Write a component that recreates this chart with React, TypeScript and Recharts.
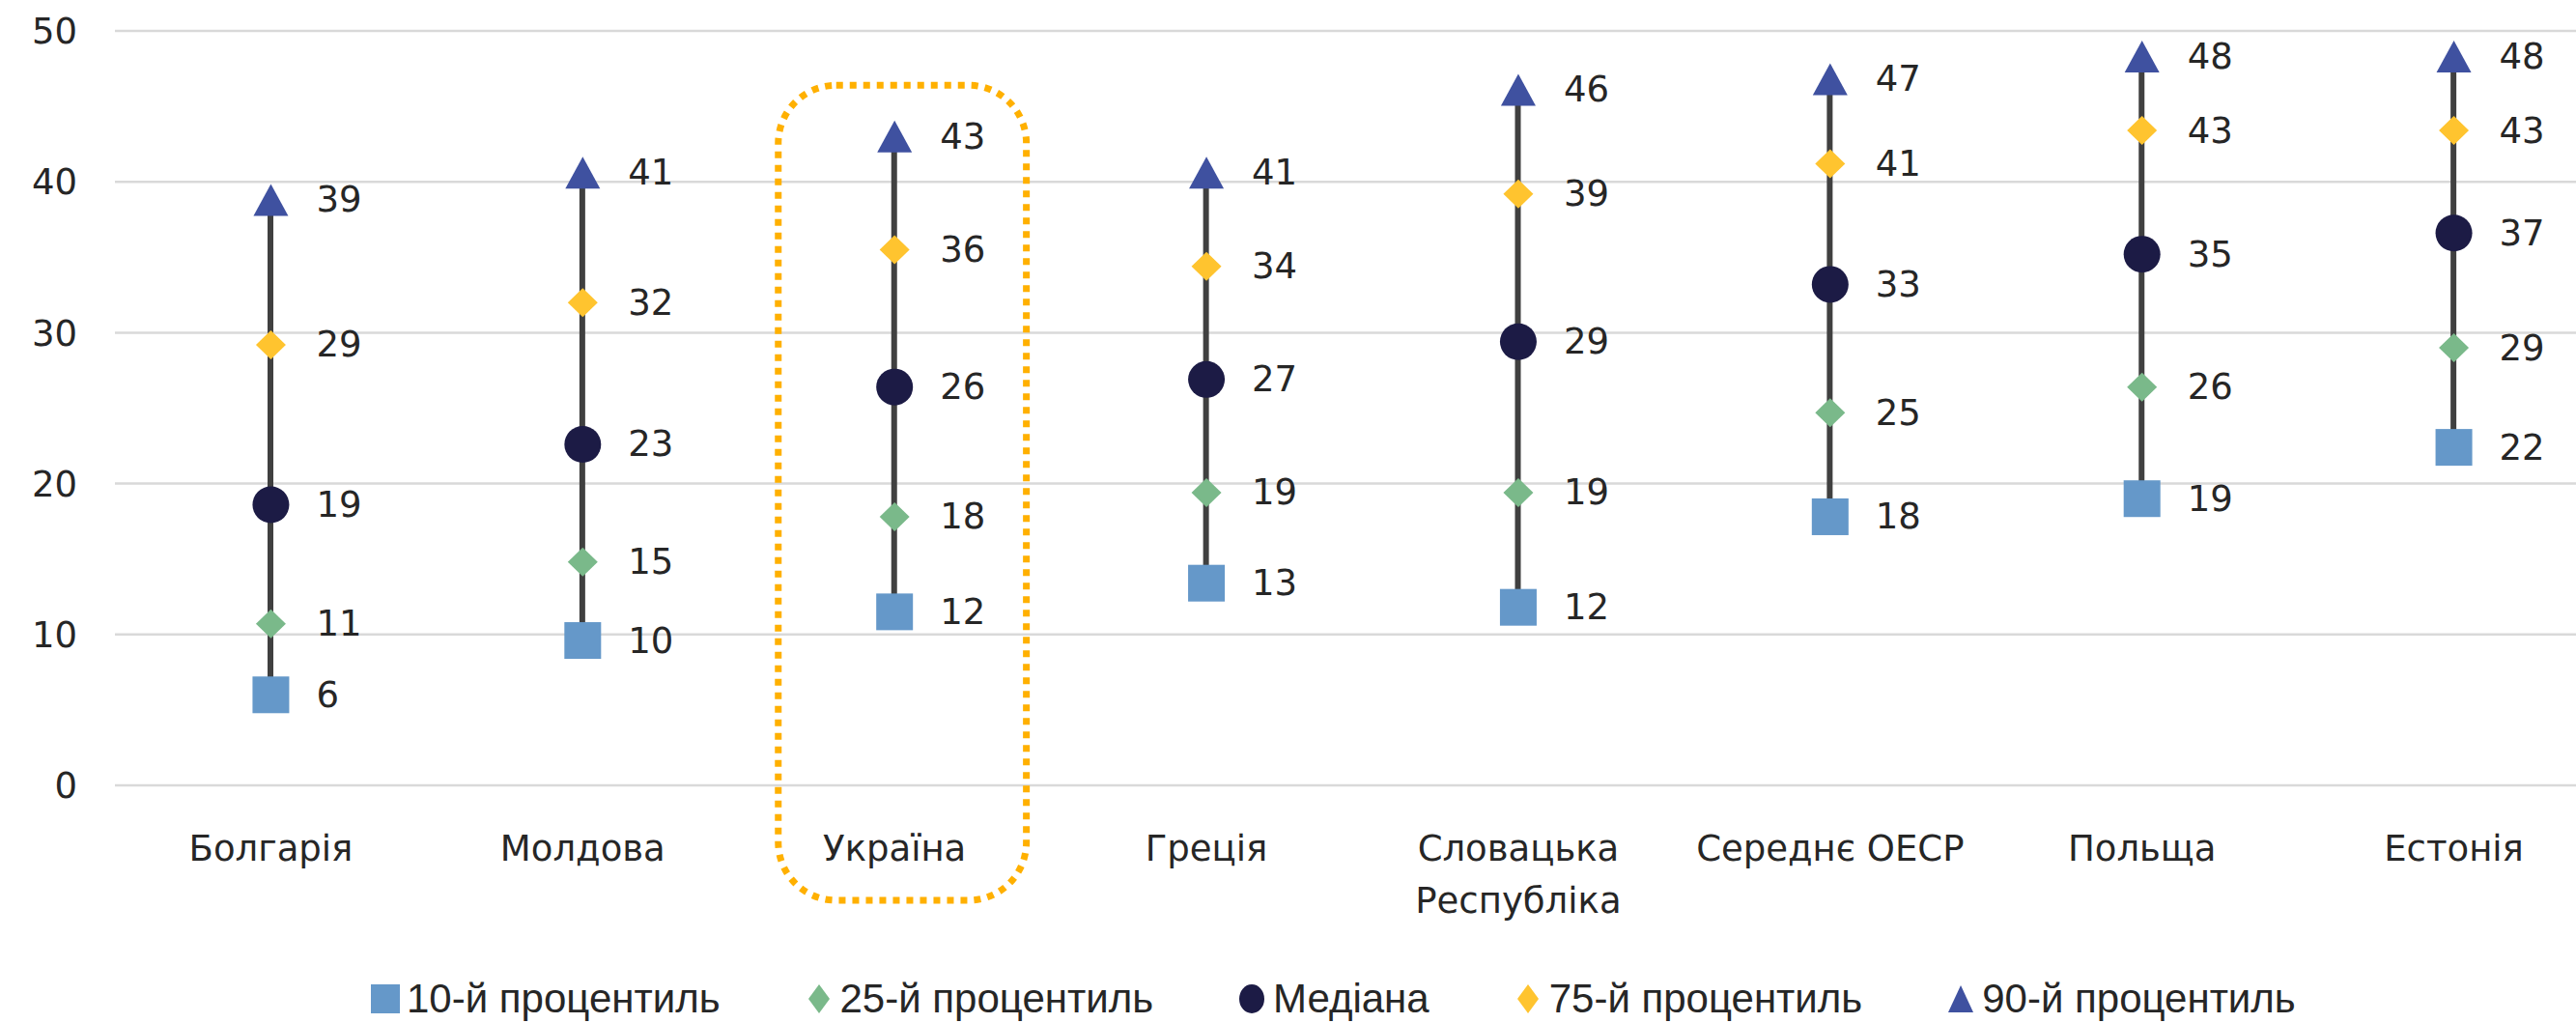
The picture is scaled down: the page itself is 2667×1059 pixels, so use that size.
import React from "react";
import {
  ComposedChart,
  Bar,
  Scatter,
  XAxis,
  YAxis,
  CartesianGrid,
  Legend,
  ReferenceArea,
} from "recharts";

const countries = [
  "Болгарія",
  "Молдова",
  "Україна",
  "Греція",
  "Словацька Республіка",
  "Середнє ОЕСР",
  "Польща",
  "Естонія",
];
const p10 = [6.0, 9.6, 11.5, 13.4, 11.8, 17.8, 19.0, 22.4];
const p25 = [10.7, 14.8, 17.8, 19.4, 19.4, 24.7, 26.4, 29.0];
const median = [18.6, 22.6, 26.4, 26.9, 29.4, 33.2, 35.2, 36.6];
const p75 = [29.2, 32.0, 35.5, 34.4, 39.2, 41.2, 43.4, 43.4];
const p90 = [38.8, 40.6, 43.0, 40.6, 46.1, 46.8, 48.3, 48.3];
const yTicks = [0, 10, 20, 30, 40, 50];
const highlighted = "Україна";

const data = countries.map((name, i) => ({
  name,
  p10: p10[i],
  p25: p25[i],
  median: median[i],
  p75: p75[i],
  p90: p90[i],
}));

const series = [
  { key: "p10", name: "10-й процентиль", color: "#6598C9", kind: "square" },
  { key: "p25", name: "25-й процентиль", color: "#7AB98A", kind: "diamond" },
  { key: "median", name: "Медіана", color: "#1C1B45", kind: "circle" },
  { key: "p75", name: "75-й процентиль", color: "#FFC42F", kind: "diamond" },
  { key: "p90", name: "90-й процентиль", color: "#3F51A0", kind: "triangle" },
];

const TEXT = "#262626";
const FONT = "DejaVu Sans";

function markerSize(kind) {
  if (kind === "square") return [38, 38];
  if (kind === "circle") return [38, 38];
  if (kind === "triangle") return [36, 33];
  return [31, 30];
}

function Marker({ kind, color, cx, cy, w, h }) {
  if (kind === "square")
    return <rect x={cx - w / 2} y={cy - h / 2} width={w} height={h} fill={color} />;
  if (kind === "circle") return <ellipse cx={cx} cy={cy} rx={w / 2} ry={h / 2} fill={color} />;
  if (kind === "triangle")
    return (
      <polygon
        points={`${cx},${cy - h / 2} ${cx + w / 2},${cy + h / 2} ${cx - w / 2},${cy + h / 2}`}
        fill={color}
      />
    );
  return (
    <polygon
      points={`${cx},${cy - h / 2} ${cx + w / 2},${cy} ${cx},${cy + h / 2} ${cx - w / 2},${cy}`}
      fill={color}
    />
  );
}

function makeShape(s) {
  return (props) => {
    const { cx, cy, payload } = props;
    if (cx == null || cy == null) return null;
    const [w, h] = markerSize(s.kind);
    return (
      <g>
        <Marker kind={s.kind} color={s.color} cx={cx} cy={cy} w={w} h={h} />
        <text
          x={cx + 47}
          y={cy}
          dominantBaseline="central"
          fontSize={37}
          fontFamily={FONT}
          fill={TEXT}
        >
          {Math.round(payload[s.key])}
        </text>
      </g>
    );
  };
}

function CategoryTick({ x, y, payload }) {
  const label = String(payload.value);
  const lines = label.length > 14 ? label.split(" ") : [label];
  return (
    <text x={x} y={y} textAnchor="middle" fontSize={37} fontFamily={FONT} fill={TEXT}>
      {lines.map((l, i) => (
        <tspan key={i} x={x} dy={i === 0 ? 78 : 54}>
          {l}
        </tspan>
      ))}
    </text>
  );
}

function HighlightBox({ x, y, width, height }) {
  return (
    <rect
      x={x + 41}
      y={y}
      width={width - 66}
      height={height + 119}
      rx={60}
      ry={60}
      fill="none"
      stroke="#FFB000"
      strokeWidth={7}
      strokeDasharray="7 7"
    />
  );
}

function LegendContent() {
  const legendSize = { square: [30, 30], diamond: [22, 30], circle: [26, 30], triangle: [26, 28] };
  return (
    <div
      style={{
        display: "flex",
        alignItems: "center",
        height: 50,
        fontFamily: "Liberation Sans",
        fontSize: 42,
        color: TEXT,
      }}
    >
      {series.map((s, i) => {
        const [w, h] = legendSize[s.kind];
        return (
          <div
            key={s.key}
            style={{ display: "flex", alignItems: "center", marginRight: i < series.length - 1 ? 87 : 0 }}
          >
            <svg width={30} height={30} style={{ display: "block" }}>
              <Marker kind={s.kind} color={s.color} cx={15} cy={15} w={w} h={h} />
            </svg>
            <span style={{ marginLeft: 7, lineHeight: "50px", whiteSpace: "nowrap" }}>{s.name}</span>
          </div>
        );
      })}
    </div>
  );
}

export default function App() {
  return (
    <div
      style={{
        position: "absolute",
        left: 0,
        top: 0,
        width: 2667,
        height: 1059,
        overflow: "hidden",
        background: "#fff",
      }}
    >
      <ComposedChart
        width={2702}
        height={1059}
        data={data}
        margin={{ top: 32, right: 0, bottom: 0, left: 0 }}
      >
        <CartesianGrid vertical={false} stroke="#D9D9D9" strokeWidth={2.5} />
        <XAxis
          dataKey="name"
          type="category"
          axisLine={false}
          tickLine={false}
          tickSize={0}
          tickMargin={0}
          height={196}
          interval={0}
          tick={<CategoryTick />}
        />
        <YAxis
          type="number"
          domain={[0, 50]}
          ticks={yTicks}
          width={119}
          axisLine={false}
          tickLine={false}
          tickSize={0}
          tickMargin={39}
          tick={{ fill: TEXT, fontSize: 37, fontFamily: FONT }}
        />
        <ReferenceArea
          x1={highlighted}
          x2={highlighted}
          y1={0}
          y2={46.4}
          ifOverflow="visible"
          shape={<HighlightBox />}
        />
        <Bar
          dataKey={(d) => [d.p10, d.p90]}
          barSize={6}
          fill="#404040"
          isAnimationActive={false}
        />
        {series.map((s) => (
          <Scatter
            key={s.key}
            dataKey={s.key}
            name={s.name}
            fill={s.color}
            shape={makeShape(s)}
            isAnimationActive={false}
          />
        ))}
        <Legend
          verticalAlign="bottom"
          content={<LegendContent />}
          wrapperStyle={{ left: 384, width: 2100, height: 50 }}
        />
      </ComposedChart>
    </div>
  );
}
